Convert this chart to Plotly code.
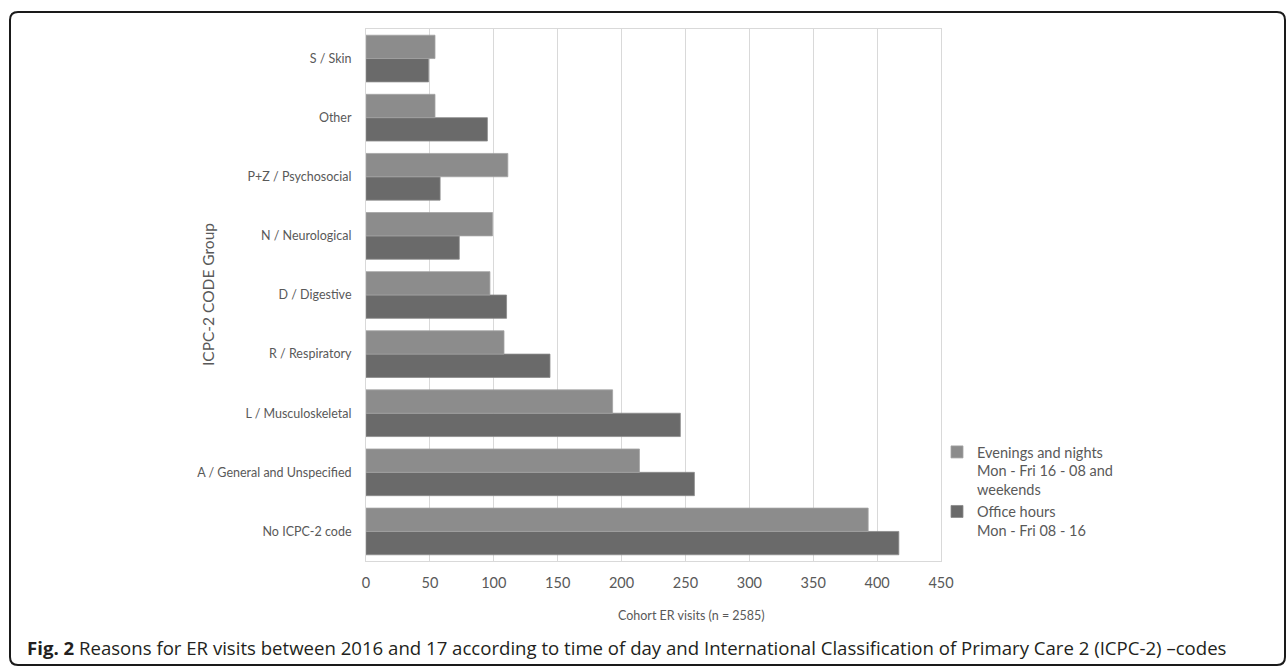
import plotly.graph_objects as go

categories = ["No ICPC-2 code", "A / General and Unspecified", "L / Musculoskeletal",
              "R / Respiratory", "D / Digestive", "N / Neurological",
              "P+Z / Psychosocial", "Other", "S / Skin"]
evenings = [393, 214, 193, 108, 97, 99, 111, 54, 54]
office = [417, 257, 246, 144, 110, 73, 58, 95, 49]
series_names = ["Evenings and nights<br>Mon - Fri 16 - 08 and<br>weekends",
                "Office hours<br>Mon - Fri 08 - 16"]
x_ticks = [0, 50, 100, 150, 200, 250, 300, 350, 400, 450]
x_title = "Cohort ER visits (n = 2585)"
y_title = "ICPC-2 CODE Group"
caption = ("<b>Fig. 2</b> Reasons for ER visits between 2016 and 17 according to time of day "
           "and International Classification of Primary Care 2 (ICPC-2) \u2013codes")

W, H = 1287, 666
L, R, T, B = 366, 941, 29, 561

def px(x):
    return (x - L) / (R - L)

def py(y):
    return (B - y) / (B - T)

LIGHT = "#8c8c8c"
DARK = "#6a6a6a"
FONT = "Lato, 'Open Sans', sans-serif"

fig = go.Figure()
fig.add_trace(go.Bar(y=categories, x=office, orientation="h", name=series_names[1],
                     marker=dict(color=DARK, line=dict(color="#8a8a8a", width=0.8))))
fig.add_trace(go.Bar(y=categories, x=evenings, orientation="h", name=series_names[0],
                     marker=dict(color=LIGHT, line=dict(color="#a3a3a3", width=0.8))))

# rounded outer frame
r = 8
x0, x1, y0, y1 = 10, 1285, 12, 665
path = (f"M {px(x0)},{py(y0 + r)} L {px(x0)},{py(y1 - r)} Q {px(x0)},{py(y1)} {px(x0 + r)},{py(y1)} "
        f"L {px(x1 - r)},{py(y1)} Q {px(x1)},{py(y1)} {px(x1)},{py(y1 - r)} "
        f"L {px(x1)},{py(y0 + r)} Q {px(x1)},{py(y0)} {px(x1 - r)},{py(y0)} "
        f"L {px(x0 + r)},{py(y0)} Q {px(x0)},{py(y0)} {px(x0)},{py(y0 + r)} Z")

fig.update_layout(
    width=W, height=H,
    margin=dict(l=L, r=W - R, t=T, b=H - B, autoexpand=False),
    paper_bgcolor="white", plot_bgcolor="white",
    barmode="group", bargap=0.21, bargroupgap=0,
    font=dict(family=FONT, color="#595959", size=12),
    showlegend=True,
    legend=dict(x=px(937), y=py(436), xanchor="left", yanchor="top",
                traceorder="reversed", valign="top",
                font=dict(size=14.5, color="#595959", family=FONT),
                bgcolor="rgba(0,0,0,0)", itemwidth=30, tracegroupgap=0),
    xaxis=dict(range=[0, 450], tickvals=x_ticks, ticktext=[str(v) for v in x_ticks],
               showgrid=True, gridcolor="#d9d9d9", gridwidth=1,
               showline=True, linecolor="#d9d9d9", linewidth=1, mirror=True,
               ticks="outside", ticklen=9, tickcolor="rgba(0,0,0,0)",
               tickfont=dict(size=14.5, color="#595959"), zeroline=False, fixedrange=True),
    yaxis=dict(showgrid=False, showline=True, linecolor="#d9d9d9", linewidth=1, mirror=True,
               ticks="outside", ticklen=11, tickcolor="rgba(0,0,0,0)",
               tickfont=dict(size=12.5, color="#595959"), fixedrange=True),
    shapes=[dict(type="path", path=path, xref="paper", yref="paper",
                 line=dict(color="#1a1a1a", width=2), fillcolor="rgba(0,0,0,0)", layer="above")],
    annotations=[
        dict(text=x_title, xref="paper", yref="paper", x=px(691), y=py(615),
             xanchor="center", yanchor="middle", showarrow=False,
             font=dict(size=12.5, color="#595959", family=FONT)),
        dict(text=y_title, xref="paper", yref="paper", x=px(208), y=py(295),
             xanchor="center", yanchor="middle", showarrow=False, textangle=-90,
             font=dict(size=15.5, color="#595959", family=FONT)),
        dict(text=caption, xref="paper", yref="paper", x=px(25), y=py(647),
             xanchor="left", yanchor="middle", showarrow=False,
             font=dict(size=18.6, color="#231f20", family="'Open Sans', sans-serif")),
    ],
)

fig.write_html("out.html")
